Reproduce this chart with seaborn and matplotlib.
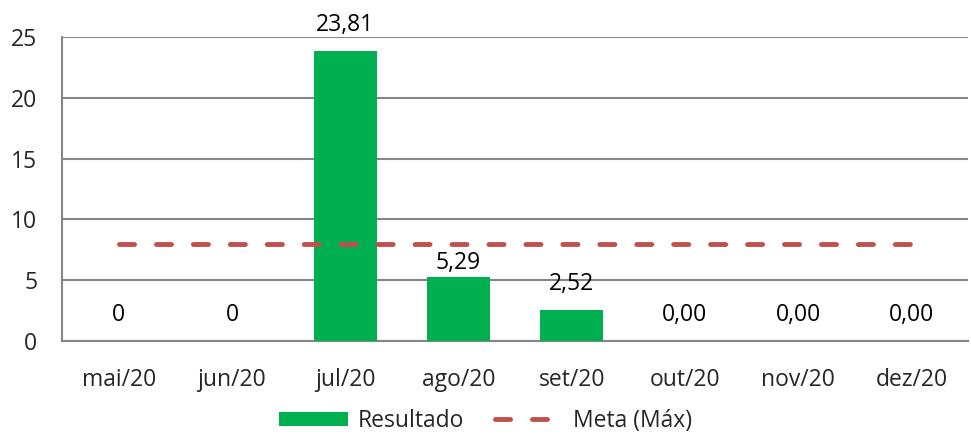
import matplotlib
matplotlib.use("Agg")
import matplotlib.pyplot as plt
import seaborn as sns
import pandas as pd

# data
meses = ["mai/20", "jun/20", "jul/20", "ago/20", "set/20", "out/20", "nov/20", "dez/20"]
resultado = [0, 0, 23.81, 5.29, 2.52, 0, 0, 0]
rotulos = ["0", "0", "23,81", "5,29", "2,52", "0,00", "0,00", "0,00"]
meta = [8, 8, 8, 8, 8, 8, 8, 8]
y_ticks = [0, 5, 10, 15, 20, 25]

df = pd.DataFrame({"mes": meses, "resultado": resultado, "meta": meta})

sns.set_style("white")
plt.rcParams["font.family"] = ["Open Sans", "DejaVu Sans"]
FS = 16.5
GRAY = "#868686"

fig = plt.figure(figsize=(9.71, 4.34), dpi=100)
ax = fig.add_axes([0.064, 0.214, 0.933, 0.701])

sns.barplot(data=df, x="mes", y="resultado", color="#00B050", width=0.56,
            saturation=1, linewidth=0, ax=ax, zorder=3, label="Resultado")
x_pos = list(range(len(meses)))
sns.lineplot(x=x_pos, y=df["meta"], ax=ax, color="#C0504D", lw=3.5,
             dashes=False, zorder=4, label="Meta (Máx)")
ax.lines[-1].set_dashes((3.1, 4.5))
ax.lines[-1].set_dash_capstyle("round")

# value labels
for i, (v, txt) in enumerate(zip(resultado, rotulos)):
    off = 10 if txt == "5,29" else 19
    ax.annotate(txt, (i, v), xytext=(0, off), textcoords="offset points",
                ha="center", va="center", fontsize=FS, color="black")

ax.set_xlim(-0.5, len(meses) - 0.5)
ax.set_ylim(0, 25)
ax.set_yticks(y_ticks)
ax.set_yticklabels([str(t) for t in y_ticks], fontsize=FS)
ax.set_xticks(x_pos)
ax.set_xticklabels(meses, fontsize=FS)
ax.set_xticks([i - 0.5 for i in range(len(meses) + 1)], minor=True)
ax.tick_params(axis="x", which="major", length=0, pad=19)
ax.tick_params(axis="x", which="minor", length=8, width=1.5, color=GRAY, direction="out")
ax.tick_params(axis="y", length=8, width=1.5, color=GRAY, direction="out", pad=10)
ax.set_xlabel("")
ax.set_ylabel("")

ax.grid(axis="y", color=GRAY, lw=1.5, zorder=0)
ax.set_axisbelow(True)
for s in ["top", "right"]:
    ax.spines[s].set_visible(False)
for s in ["left", "bottom"]:
    ax.spines[s].set_color(GRAY)
    ax.spines[s].set_linewidth(1.5)

ax.get_legend().remove()
h, l = ax.get_legend_handles_labels()
order = [l.index("Resultado"), l.index("Meta (Máx)")]
fig.legend([h[i] for i in order], [l[i] for i in order], loc="lower center",
           bbox_to_anchor=(0.5, -0.045), ncol=2, frameon=False, fontsize=FS,
           handlelength=3.0, handleheight=0.6, columnspacing=1.35, handletextpad=0.4)

fig.savefig("out.png", dpi=100)
